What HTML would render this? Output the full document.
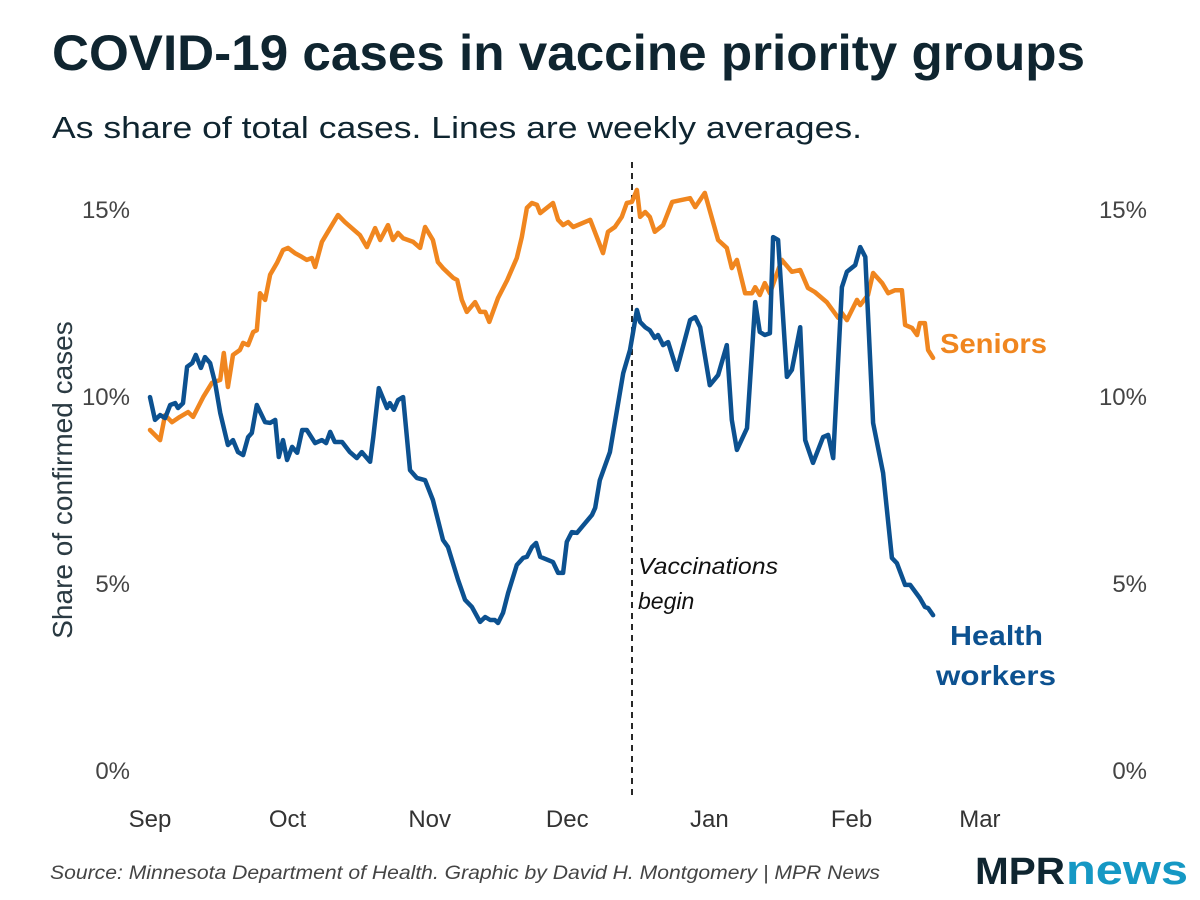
<!DOCTYPE html>
<html><head><meta charset="utf-8"><style>
html,body{margin:0;padding:0;background:#fff;}
svg{display:block;font-family:"Liberation Sans",sans-serif;}
</style></head><body>
<svg id="chart" width="1200" height="900" viewBox="0 0 1200 900">
<text x="52" y="70" font-size="50" font-weight="bold" fill="#0f2530" textLength="1033" lengthAdjust="spacingAndGlyphs">COVID-19 cases in vaccine priority groups</text>
<text x="52" y="138" font-size="31" fill="#0f2530" textLength="810" lengthAdjust="spacingAndGlyphs">As share of total cases. Lines are weekly averages.</text>
<text transform="translate(72,480) rotate(-90)" text-anchor="middle" font-size="28" fill="#2a3a42">Share of confirmed cases</text>
<g id="yticks"></g>
<g id="xticks"></g>
<line x1="632" y1="162" x2="632" y2="800" stroke="#111" stroke-width="1.8" stroke-dasharray="6,5"/>
<text x="638" y="574" font-size="23" font-style="italic" fill="#111" textLength="140" lengthAdjust="spacingAndGlyphs">Vaccinations</text>
<text x="638" y="609" font-size="23" font-style="italic" fill="#111">begin</text>
<g id="lines"></g>
<text x="940" y="353" font-size="28" font-weight="bold" fill="#f0861f" textLength="107" lengthAdjust="spacingAndGlyphs">Seniors</text>
<text x="950" y="645" font-size="28" font-weight="bold" fill="#0c5190" textLength="93" lengthAdjust="spacingAndGlyphs">Health</text>
<text x="936" y="685" font-size="28" font-weight="bold" fill="#0c5190" textLength="120" lengthAdjust="spacingAndGlyphs">workers</text>
<text x="50" y="879" font-size="19" font-style="italic" fill="#444" textLength="830" lengthAdjust="spacingAndGlyphs">Source: Minnesota Department of Health. Graphic by David H. Montgomery | MPR News</text>
<text x="975" y="884" font-size="38" font-weight="bold" fill="#0f2530" textLength="90" lengthAdjust="spacingAndGlyphs">MPR</text>
<text x="1066" y="884" font-size="42" font-weight="bold" fill="#1598c4" textLength="122" lengthAdjust="spacingAndGlyphs">news</text>
</svg>
<script>
const yTicks = [0, 5, 10, 15];
const xTickLabels = ["Sep","Oct","Nov","Dec","Jan","Feb","Mar"];
const xTickDays = [0, 30, 61, 91, 122, 153, 181];
const seniorDays = [0,2.2,3.3,4.8,6.5,8.3,9.4,11.6,13.5,15.3,16.1,17,18.1,19.6,20.3,21.4,22.5,23.3,24,25.1,26.2,27.7,29,30.1,31.6,33.1,34.2,35.3,36,37.5,38.8,41,42.5,45.8,47.3,49.1,50.2,51.9,53,54.1,55.2,57.4,58.9,60,61.7,62.8,63.9,66.1,67,68,69.1,70.9,72,73.1,74,75.9,77.9,80,81.1,82.2,83.3,84.4,85.1,87.9,89,90.1,91.2,92.3,96,98.8,99.9,101.4,102.9,104,105.1,106.2,106.9,108,109,110.1,111.9,113.9,117.8,118.9,121,123.9,125.8,126.9,128,129.8,131.3,132,133,134.1,135.2,137.8,140,141.8,143.5,145,147.6,150.1,150.9,152,154.2,154.9,156.6,157.7,159.7,161,162.5,164,164.7,166.2,167.3,167.9,169,169.7,170.8];
const seniorValues = [9.09,8.82,9.49,9.3,9.44,9.57,9.44,9.97,10.35,10.43,11.15,10.24,11.1,11.23,11.42,11.36,11.71,11.76,12.75,12.57,13.24,13.56,13.9,13.96,13.82,13.72,13.64,13.69,13.45,14.12,14.39,14.84,14.65,14.3,13.98,14.49,14.17,14.57,14.17,14.36,14.22,14.12,13.96,14.52,14.17,13.58,13.42,13.16,13.1,12.57,12.25,12.51,12.25,12.25,11.98,12.62,13.1,13.69,14.25,15.03,15.16,15.11,14.89,15.16,14.71,14.57,14.65,14.52,14.71,13.82,14.39,14.52,14.79,15.16,15.19,15.51,14.79,14.92,14.79,14.39,14.57,15.19,15.29,15.05,15.43,14.17,13.96,13.42,13.64,12.75,12.75,12.91,12.7,13.02,12.75,13.64,13.32,13.37,12.89,12.78,12.51,12.09,12.22,12.03,12.57,12.43,12.7,13.29,13.02,12.75,12.83,12.83,11.9,11.82,11.63,11.95,11.95,11.23,11.02];
const healthDays = [0,1.1,2.2,3.3,4.4,5.5,6.1,7.2,8.1,9.2,10,11.1,12,13.1,14.2,15.3,17,18.1,19.2,20.3,21.4,22.2,23.3,25.1,26.2,27.3,28.1,29,29.9,31,32.1,33.2,34.2,36,37.5,38.4,39.3,40.3,41.9,43.6,45.1,46.2,48,48.7,49.9,51.7,52.3,53.2,54.1,55.2,56.7,58.2,60,61.7,63.9,65,67.2,68.7,70.2,72,73.1,74.2,75.2,75.9,77,78.1,80,81.4,82.2,83.3,84.2,85.1,87.9,89,90.1,90.9,92,93.1,96.4,97.1,98.1,100.3,103.2,104.7,106.2,106.9,108,109,110.1,110.8,111.9,113,114.9,117.8,118.9,120,122.1,123.9,125.8,126.9,128,130.2,132,133,134.1,135.2,135.9,137,138.9,140,141.8,142.9,144.6,146.8,147.9,149,150.9,152,153.8,154.9,156,157.7,159.9,161.8,162.9,164.7,165.8,167.9,169,169.7,170.8];
const healthValues = [9.97,9.36,9.49,9.41,9.76,9.81,9.68,9.81,10.78,10.88,11.1,10.75,11.04,10.88,10.35,9.55,8.69,8.82,8.5,8.42,8.9,9.01,9.76,9.3,9.28,9.36,8.37,8.82,8.29,8.64,8.48,9.09,9.09,8.74,8.82,8.74,9.04,8.77,8.77,8.5,8.34,8.5,8.24,8.9,10.21,9.68,9.81,9.63,9.89,9.97,8.02,7.81,7.75,7.22,6.15,5.96,5.08,4.55,4.36,3.96,4.09,4.01,4.01,3.93,4.2,4.73,5.48,5.67,5.7,5.96,6.07,5.7,5.56,5.27,5.27,6.1,6.36,6.34,6.82,7.01,7.75,8.5,10.61,11.23,12.3,11.98,11.84,11.76,11.55,11.63,11.36,11.44,10.7,12.03,12.11,11.84,10.29,10.56,11.36,9.36,8.56,9.14,12.51,11.71,11.63,11.68,14.25,14.17,10.51,10.7,11.84,8.82,8.21,8.9,8.96,8.34,12.91,13.32,13.5,13.98,13.72,9.28,7.94,5.67,5.53,4.95,4.95,4.6,4.36,4.33,4.14];

const NS = "http://www.w3.org/2000/svg";
function xScale(d){ return 150 + d * 4.585; }
function yScale(v){ return 770 - v * 37.4; }

const yg = document.getElementById('yticks');
yTicks.forEach(function(t){
  const l = document.createElementNS(NS,'text');
  l.setAttribute('x', 130); l.setAttribute('y', yScale(t) + 9);
  l.setAttribute('text-anchor','end'); l.setAttribute('font-size','24'); l.setAttribute('fill','#444');
  l.textContent = t + '%';
  
  
  yg.appendChild(l);
  const r = document.createElementNS(NS,'text');
  r.setAttribute('x', 1147); r.setAttribute('y', yScale(t) + 9);
  r.setAttribute('text-anchor','end'); r.setAttribute('font-size','24'); r.setAttribute('fill','#444');
  r.textContent = t + '%';
  
  
  yg.appendChild(r);
});
const xg = document.getElementById('xticks');
xTickLabels.forEach(function(lab, i){
  const t = document.createElementNS(NS,'text');
  t.setAttribute('x', xScale(xTickDays[i])); t.setAttribute('y', 827);
  t.setAttribute('text-anchor','middle'); t.setAttribute('font-size','24'); t.setAttribute('fill','#333');
  t.textContent = lab;
  
  
  xg.appendChild(t);
});
function drawLine(days, vals, color, name){
  const p = document.createElementNS(NS,'path');
  let d = '';
  days.forEach(function(dd, i){ d += (i ? 'L' : 'M') + xScale(dd).toFixed(1) + ',' + yScale(vals[i]).toFixed(1); });
  p.setAttribute('d', d);
  p.setAttribute('fill','none'); p.setAttribute('stroke', color);
  p.setAttribute('stroke-width','4.5'); p.setAttribute('stroke-linejoin','round'); p.setAttribute('stroke-linecap','round');
  
  
  document.getElementById('lines').appendChild(p);
}
drawLine(seniorDays, seniorValues, '#f0861f', 'seniors-line');
drawLine(healthDays, healthValues, '#0c5190', 'health-workers-line');
</script>
</body></html>
